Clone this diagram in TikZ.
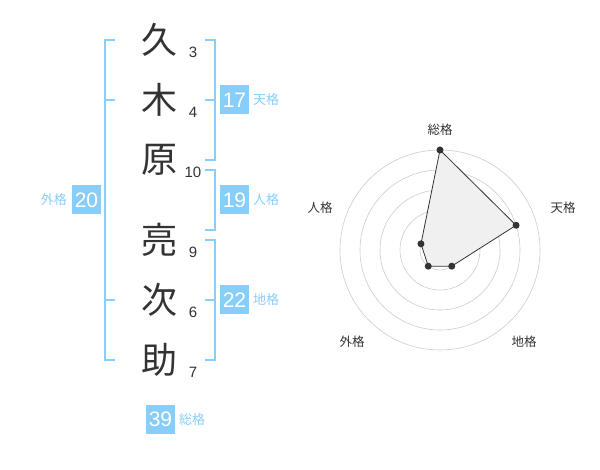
\documentclass[tikz,border=0pt]{standalone}
\usepackage{fontspec}
\usetikzlibrary{calc}
\setmainfont{Liberation Sans}
\newfontfamily\jp{Noto Sans CJK JP}
\definecolor{sky}{HTML}{87CEFA}
\definecolor{ink}{HTML}{333333}
\definecolor{ring}{HTML}{CCCCCC}
\definecolor{area}{HTML}{F0F0F0}
\tikzset{
  kanji/.style={font=\jp\fontsize{36}{36}\selectfont, text=ink, inner sep=0pt},
  strokes/.style={font=\fontsize{15}{15}\selectfont, text=ink, inner sep=0pt},
  bracket/.style={draw=sky, line width=2pt},
  scorebox/.style={fill=sky, text=white, minimum width=29pt, minimum height=29pt, inner sep=0pt, font=\fontsize{21}{21}\selectfont},
  scorelabel/.style={text=sky, font=\jp\fontsize{13}{13}\selectfont, inner sep=0pt},
  axislabel/.style={text=ink, font=\jp\fontsize{12.5}{12.5}\selectfont, inner sep=0pt},
  ringline/.style={draw=ring, line width=0.6pt},
  vertex/.style={circle, fill=ink, minimum size=7pt, inner sep=0pt}
}
\begin{document}
\begin{tikzpicture}[x=1pt,y=-1pt]
\useasboundingbox (0,0) rectangle (600,470);
% name characters
\node[kanji] (k1) at (159,40) {久};
\node[kanji] (k2) at (159,100) {木};
\node[kanji] (k3) at (159,160) {原};
\node[kanji] (k4) at (159,240) {亮};
\node[kanji] (k5) at (159,300) {次};
\node[kanji] (k6) at (159,360) {助};
% stroke counts
\node[strokes] (n1) at (193,52) {3};
\node[strokes] (n2) at (193,112) {4};
\node[strokes] (n3) at (193,172) {10};
\node[strokes] (n4) at (193,252) {9};
\node[strokes] (n5) at (193,312) {6};
\node[strokes] (n6) at (193,372) {7};
% outer bracket (外格)
\draw[bracket] (115,40) -- (105,40) -- (105,360) -- (115,360);
\draw[bracket] (105,100) -- (115,100);
\draw[bracket] (105,300) -- (115,300);
% right brackets
\draw[bracket] (205,40) -- (215,40) -- (215,160) -- (205,160);
\draw[bracket] (205,100) -- (215,100);
\draw[bracket] (205,170) -- (215,170) -- (215,230) -- (205,230);
\draw[bracket] (205,240) -- (215,240) -- (215,360) -- (205,360);
\draw[bracket] (205,300) -- (215,300);
% score boxes
\node[scorebox] (ten) at (234.5,100) {17};
\node[scorelabel, anchor=west] (tenl) at (253,100) {天格};
\node[scorebox] (jin) at (234.5,200) {19};
\node[scorelabel, anchor=west] (jinl) at (253,200) {人格};
\node[scorebox] (chi) at (234.5,300) {22};
\node[scorelabel, anchor=west] (chil) at (253,300) {地格};
\node[scorebox] (gai) at (86.5,200) {20};
\node[scorelabel, anchor=east] (gail) at (67,200) {外格};
\node[scorebox] (sou) at (160.5,419.5) {39};
\node[scorelabel, anchor=west] (soul) at (179,420) {総格};
% radar chart
\coordinate (C) at (440,250);
\foreach \r in {20,40,60,80,100} \draw[ringline] (C) circle[radius=\r];
\fill[ring] (C) circle[radius=3.5];
\coordinate (pS) at ($(C)+(-90:100)$);
\coordinate (pT) at ($(C)+(-18:80)$);
\coordinate (pC) at ($(C)+(54:20)$);
\coordinate (pG) at ($(C)+(126:20)$);
\coordinate (pJ) at ($(C)+(198:20)$);
\fill[area] (pS) -- (pT) -- (pC) -- (pG) -- (pJ) -- cycle;
\draw[ink, line width=0.8pt] (pS) -- (pT) -- (pC) -- (pG) -- (pJ) -- cycle;
\foreach \p in {pS,pT,pC,pG,pJ} \node[vertex] at (\p) {};
\node[axislabel] (aS) at (440,130) {総格};
\node[axislabel] (aT) at (563,208) {天格};
\node[axislabel] (aC) at (524,342) {地格};
\node[axislabel] (aG) at (352,342) {外格};
\node[axislabel] (aJ) at (320,208) {人格};
\end{tikzpicture}
\end{document}
